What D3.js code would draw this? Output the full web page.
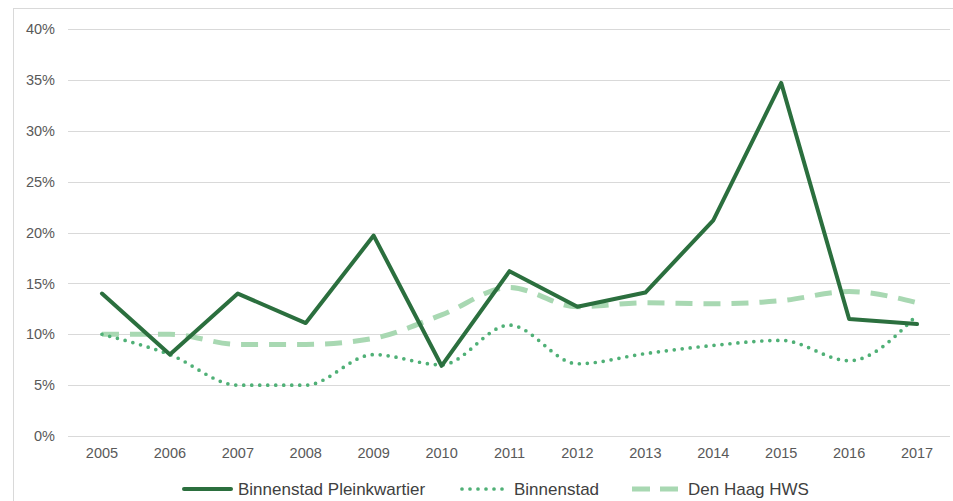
<!DOCTYPE html>
<html lang="en">
<head>
  <meta charset="UTF-8">
  <script src="https://cdnjs.cloudflare.com/ajax/libs/d3/7.8.5/d3.min.js"></script>
  <title>Binnenstad Pleinkwartier</title>
  <style>
    body { margin:0; background:#fff; }
    svg { display:block; font-family:"Liberation Sans", Arial, sans-serif; }
  </style>
</head>
<body>
  <svg id="chart" width="953" height="501"></svg>
  <script>
    // data (percentages)
    var years = ["2005","2006","2007","2008","2009","2010","2011","2012","2013","2014","2015","2016","2017"]
    var pleinkwartier = [14, 8, 14, 11.1, 19.7, 6.9, 16.2, 12.7, 14.1, 21.2, 34.7, 11.5, 11.0]
    var binnenstad = [10, 8, 5, 5, 8, 7, 10.9, 7.1, 8.1, 8.9, 9.4, 7.4, 11.9]
    var denHaag = [10, 10, 9, 9, 9.6, 11.9, 14.6, 12.7, 13.1, 13.0, 13.3, 14.2, 13.1]
    var yTicks = [0, 5, 10, 15, 20, 25, 30, 35, 40]
    var seriesNames = ["Binnenstad Pleinkwartier", "Binnenstad", "Den Haag HWS"]

    var svg = d3.select("#chart")
    var margin = { top:29, bottom:65, left:68, right:2 }
    var width = 953, height = 501

    // chart frame
    svg.append("rect")
      .attr("x", 13.5).attr("y", 8.5)
      .attr("width", 960).attr("height", 520)
      .attr("fill", "none").attr("stroke", "#d9d9d9")

    var x = d3.scaleBand().domain(years).range([margin.left, width - margin.right])
    var y = d3.scaleLinear().domain([0, 40]).range([height - margin.bottom, margin.top])
    var cx = d => x(d) + x.bandwidth() / 2

    // gridlines
    svg.append("g")
      .selectAll("line")
      .data(yTicks)
      .join("line")
      .attr("x1", margin.left).attr("x2", width - margin.right - 1)
      .attr("y1", d => Math.round(y(d)) + 0.5).attr("y2", d => Math.round(y(d)) + 0.5)
      .attr("stroke", "#d9d9d9").attr("stroke-width", 1)

    var yAxis = svg.append("g")
      .attr("transform", `translate(${margin.left - 13},0)`)
      .call(d3.axisLeft(y).tickValues(yTicks).tickFormat(d => d + "%").tickSize(0).tickPadding(0))
    var xAxis = svg.append("g")
      .attr("transform", `translate(0,${height - margin.bottom + 12})`)
      .call(d3.axisBottom(x).tickSize(0).tickPadding(0))
    ;[yAxis, xAxis].forEach(function(a){
      a.select(".domain").remove()
      a.selectAll("text").attr("fill", "#595959").attr("font-size", "14.5px")
        .attr("font-family", "Liberation Sans, Arial, sans-serif")
    })
    xAxis.selectAll("text").attr("dy", "0.71em")

    var straight = d3.line().x((d, i) => cx(years[i])).y(d => y(d))
    var smooth = d3.line().x((d, i) => cx(years[i])).y(d => y(d)).curve(d3.curveMonotoneX)

    var styles = [
      { color:"#2b6f3e", width:4, dash:null, cap:"round", gen:straight, data:pleinkwartier },
      { color:"#4fb076", width:3.7, dash:"0,8", cap:"round", gen:smooth, data:binnenstad },
      { color:"#a8d8b2", width:5, dash:"17,11", cap:"butt", gen:smooth, data:denHaag }
    ]

    // draw back to front: dashed, dotted, solid
    ;[2, 1, 0].forEach(function(i){
      var s = styles[i]
      svg.append("path")
        .datum(s.data)
        .attr("d", s.gen)
        .attr("fill", "none")
        .attr("stroke", s.color)
        .attr("stroke-width", s.width)
        .attr("stroke-linecap", s.cap)
        .attr("stroke-linejoin", "round")
        .attr("stroke-dasharray", s.dash)
    })

    // legend
    var legendX = [184, 461, 632]
    var legend = svg.append("g")
    seriesNames.forEach(function(name, i){
      var s = styles[i]
      var g = legend.append("g").attr("transform", `translate(${legendX[i]},489)`)
      g.append("line")
        .attr("x1", i == 1 ? 1 : 0).attr("x2", i == 2 ? 46 : 47)
        .attr("y1", 0).attr("y2", 0)
        .attr("stroke", s.color).attr("stroke-width", s.width)
        .attr("stroke-linecap", s.cap)
        .attr("stroke-dasharray", i == 2 ? "18,10" : s.dash)
      g.append("text")
        .attr("x", i == 2 ? 56 : (i == 1 ? 53 : 54))
        .attr("y", 0).attr("dy", "0.35em")
        .attr("font-size", "17px").attr("fill", "#404040")
        .text(name)
    })
  </script>
</body>
</html>
